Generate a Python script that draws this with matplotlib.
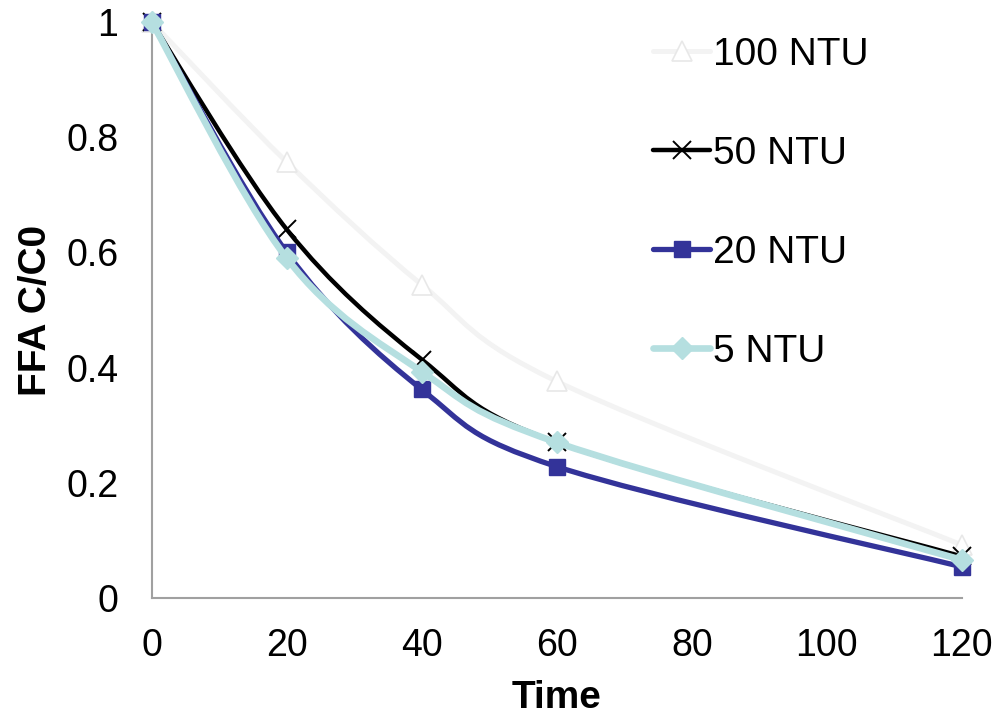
import matplotlib.pyplot as plt
import numpy as np
from matplotlib.path import Path
from matplotlib.patches import PathPatch
from matplotlib.lines import Line2D

plt.rcParams['font.family'] = ['Liberation Sans', 'DejaVu Sans']

# data
time = [0, 20, 40, 60, 120]
ntu100 = [1.0, 0.757, 0.544, 0.376, 0.092]
ntu50 = [1.0, 0.640, 0.414, 0.270, 0.072]
ntu20 = [1.0, 0.600, 0.362, 0.228, 0.054]
ntu5 = [1.0, 0.590, 0.393, 0.270, 0.066]
labels = ["100 NTU", "50 NTU", "20 NTU", "5 NTU"]


def smooth_path(x, y):
    # Excel-like smoothed line (Catmull-Rom as cubic Bezier)
    p = np.column_stack([x, y]).astype(float)
    pts = np.vstack([p[0], p, p[-1]])
    verts = [p[0]]
    codes = [Path.MOVETO]
    for i in range(1, len(pts) - 2):
        c1 = pts[i] + (pts[i + 1] - pts[i - 1]) / 6
        c2 = pts[i + 1] - (pts[i + 2] - pts[i]) / 6
        verts += [c1, c2, pts[i + 1]]
        codes += [Path.CURVE4] * 3
    return Path(verts, codes)


fig = plt.figure(figsize=(10.05, 7.16), dpi=100)
ax = fig.add_axes([0.151, 0.165, 0.806, 0.804])

styles = [
    dict(color='#f3f3f3', lw=3.6, marker='^', ms=14, mfc='white', mec='#e8e8e8', mew=1.2),
    dict(color='black', lw=3.2, marker='x', ms=13, mfc='black', mec='black', mew=1.4),
    dict(color='#333399', lw=3.8, marker='s', ms=12, mfc='#333399', mec='#333399', mew=1),
    dict(color='#b5dfe0', lw=4.8, marker='D', ms=11, mfc='#b5dfe0', mec='#b5dfe0', mew=1),
]
series = [ntu100, ntu50, ntu20, ntu5]

handles = []
for i, (vals, st, lab) in enumerate(zip(series, styles, labels)):
    patch = PathPatch(smooth_path(time, vals), fill=False, edgecolor=st['color'],
                      lw=st['lw'], capstyle='round', joinstyle='round',
                      transform=ax.transData, zorder=2 + i, clip_on=False)
    ax.add_patch(patch)
    ax.plot(time, vals, linestyle='none', marker=st['marker'], ms=st['ms'],
            mfc=st['mfc'], mec=st['mec'], mew=st['mew'], zorder=2 + i, clip_on=False)
    handles.append(Line2D([], [], color=st['color'], lw=st['lw'], marker=st['marker'],
                          ms=st['ms'], mfc=st['mfc'], mec=st['mec'], mew=st['mew'],
                          solid_capstyle='round', label=lab))

ax.set_xlim(0, 120)
ax.set_ylim(0, 1)
ax.set_xticks([0, 20, 40, 60, 80, 100, 120])
ax.set_yticks([0, 0.2, 0.4, 0.6, 0.8, 1])
ax.set_yticklabels(['0', '0.2', '0.4', '0.6', '0.8', '1'])
ax.tick_params(length=0, labelsize=27)
ax.tick_params(axis='x', pad=22)
ax.tick_params(axis='y', pad=24)
for s in ['top', 'right']:
    ax.spines[s].set_visible(False)
for s in ['left', 'bottom']:
    ax.spines[s].set_color('#a0a0a0')
    ax.spines[s].set_linewidth(1.5)

ax.set_xlabel('Time', fontsize=28, fontweight='bold', labelpad=11)
ax.set_ylabel('FFA C/C0', fontsize=28, fontweight='bold', labelpad=9)

ax.legend(handles=handles, loc='upper left', bbox_to_anchor=(0.623, 0.987),
          bbox_transform=fig.transFigure, borderpad=0.2,
          frameon=False, fontsize=28, labelspacing=1.62, handlelength=1.45,
          handletextpad=0.08)

fig.savefig('out.png', dpi=100)
